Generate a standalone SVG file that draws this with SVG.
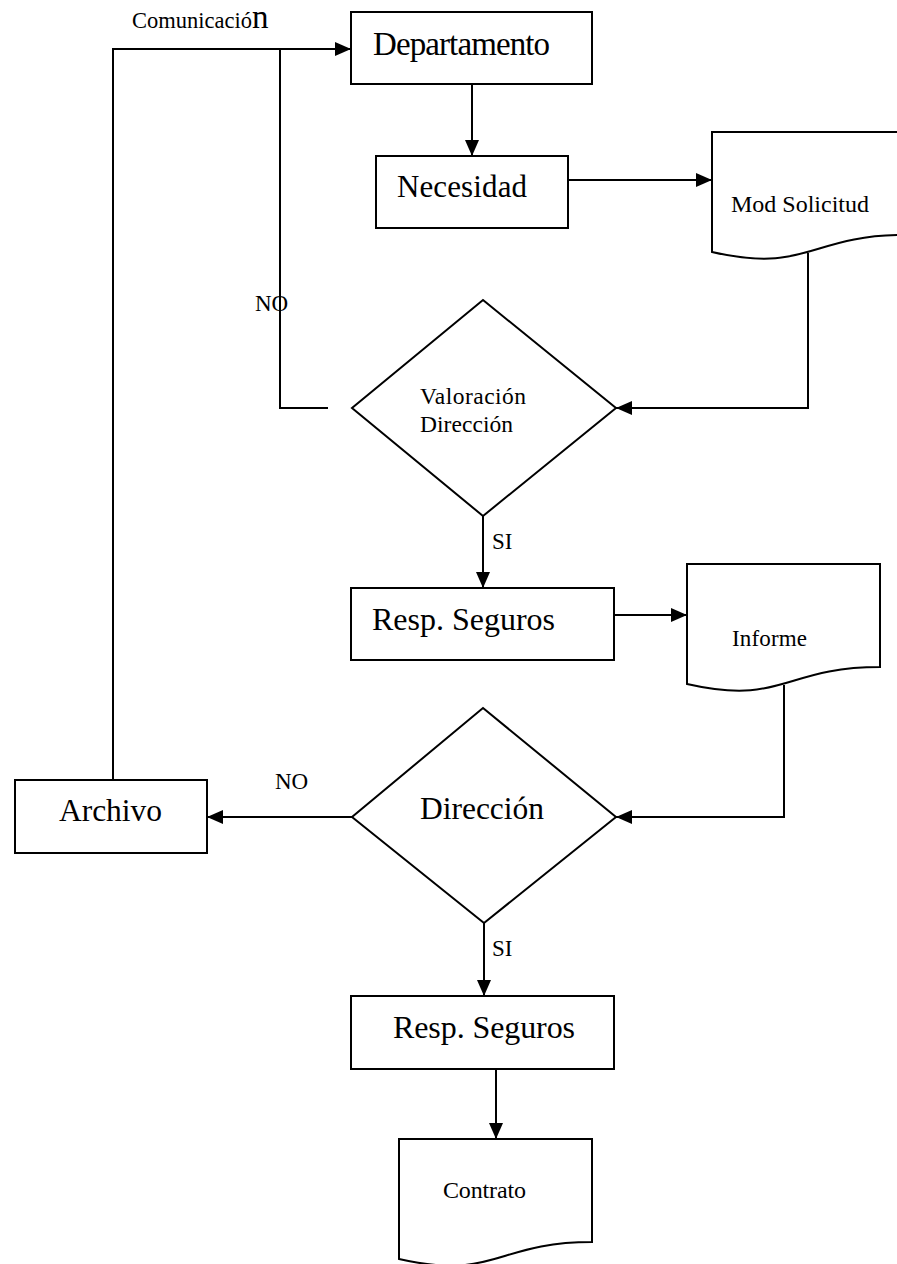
<svg xmlns="http://www.w3.org/2000/svg" width="897" height="1264" viewBox="0 0 897 1264">
  <style>
    .shape { fill: #ffffff; stroke: #000000; stroke-width: 2; }
    .wire { fill: none; stroke: #000000; stroke-width: 2; }
    text { font-family: "Liberation Serif", "Times New Roman", serif; fill: #000000; }
  </style>
  <defs>
    <marker id="arrow" markerUnits="userSpaceOnUse" markerWidth="16" markerHeight="14" refX="16" refY="7" orient="auto">
      <path d="M0,0 L16,7 L0,14 Z" fill="#000000"/>
    </marker>
  </defs>

  <!-- connectors -->
  <g id="connectors">
    <path class="wire" d="M113,780 V49 H351" marker-end="url(#arrow)"/>
    <path class="wire" d="M328,408 H280 V49"/>
    <path class="wire" d="M472,84 V156" marker-end="url(#arrow)"/>
    <path class="wire" d="M568,180 H712" marker-end="url(#arrow)"/>
    <path class="wire" d="M808,253 V408 H616" marker-end="url(#arrow)"/>
    <path class="wire" d="M483,516 V588" marker-end="url(#arrow)"/>
    <path class="wire" d="M614,615 H687" marker-end="url(#arrow)"/>
    <path class="wire" d="M784,685 V817 H616" marker-end="url(#arrow)"/>
    <path class="wire" d="M352,817 H207" marker-end="url(#arrow)"/>
    <path class="wire" d="M484,923 V996" marker-end="url(#arrow)"/>
    <path class="wire" d="M496,1069 V1139" marker-end="url(#arrow)"/>
    <text x="132" y="28" font-size="22.5" textLength="120" lengthAdjust="spacing">Comunicació</text>
    <text x="252" y="28" font-size="33">n</text>
    <text x="255" y="311" font-size="23">NO</text>
    <text x="492" y="549" font-size="23">SI</text>
    <text x="275" y="789" font-size="23">NO</text>
    <text x="492" y="956" font-size="23">SI</text>
  </g>

  <g id="departamento">
    <rect class="shape" x="351" y="12" width="241" height="72"/>
    <text x="373" y="55" font-size="33" textLength="177" lengthAdjust="spacing">Departamento</text>
  </g>

  <g id="necesidad">
    <rect class="shape" x="376" y="156" width="192" height="72"/>
    <text x="397" y="197" font-size="31" textLength="130" lengthAdjust="spacing">Necesidad</text>
  </g>

  <g id="mod-solicitud">
    <path class="shape" d="M712,132 H905 V235 C808.5,235 808.5,274 712,252 Z"/>
    <text x="731" y="212" font-size="24" textLength="138" lengthAdjust="spacing">Mod Solicitud</text>
  </g>

  <g id="valoracion-direccion">
    <path class="shape" d="M483,300 L616,408 L483,516 L352,408 Z"/>
    <text x="420" y="404" font-size="23.5" textLength="106" lengthAdjust="spacing">Valoración</text>
    <text x="420" y="432" font-size="23.5" textLength="93" lengthAdjust="spacing">Dirección</text>
  </g>

  <g id="resp-seguros-1">
    <rect class="shape" x="351" y="588" width="263" height="72"/>
    <text x="372" y="630" font-size="32" textLength="183" lengthAdjust="spacing">Resp. Seguros</text>
  </g>

  <g id="informe">
    <path class="shape" d="M687,564 H880 V667 C783.5,667 783.5,706 687,684 Z"/>
    <text x="732" y="646" font-size="23" textLength="75" lengthAdjust="spacing">Informe</text>
  </g>

  <g id="archivo">
    <rect class="shape" x="15" y="780" width="192" height="73"/>
    <text x="59" y="821" font-size="31.5" textLength="103" lengthAdjust="spacing">Archivo</text>
  </g>

  <g id="direccion">
    <path class="shape" d="M483,708 L616,817 L484,923 L352,817 Z"/>
    <text x="420" y="819" font-size="31.5" textLength="124" lengthAdjust="spacing">Dirección</text>
  </g>

  <g id="resp-seguros-2">
    <rect class="shape" x="351" y="996" width="263" height="73"/>
    <text x="393" y="1038" font-size="32" textLength="182" lengthAdjust="spacing">Resp. Seguros</text>
  </g>

  <g id="contrato">
    <path class="shape" d="M399,1139 H592 V1242 C495.5,1242 495.5,1281 399,1259 Z"/>
    <text x="443" y="1198" font-size="24" textLength="83" lengthAdjust="spacing">Contrato</text>
  </g>
</svg>
